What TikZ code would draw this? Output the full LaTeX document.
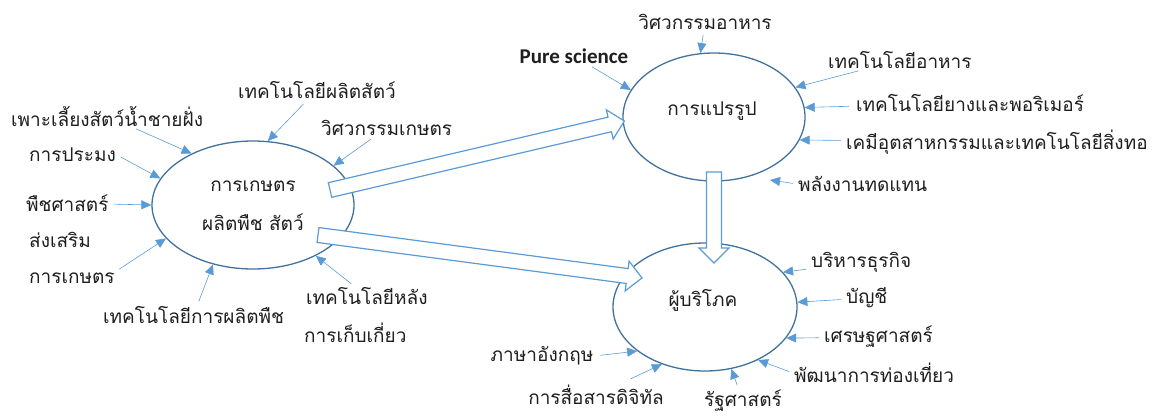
\documentclass[tikz,border=0pt]{standalone}
\usepackage{fontspec}
\newfontfamily\thaifont[Script=Thai]{Loma}
\newfontfamily\latinfont{Carlito}
\usepackage{tikz}
\usetikzlibrary{shapes.geometric,arrows.meta,calc}

\definecolor{ellblue}{RGB}{65,113,156}
\definecolor{arrblue}{RGB}{91,155,213}
\definecolor{txtgray}{RGB}{30,30,30}

\tikzset{
    topic/.style={ellipse, draw=ellblue, line width=1.3pt, minimum width=202pt, minimum height=128pt, inner sep=0pt},
    field/.style={font=\thaifont\fontsize{19}{22}\selectfont, text=txtgray, inner sep=1pt},
    feed/.style={-{Triangle[length=10pt,width=9pt]}, arrblue, line width=0.6pt, shorten <=4pt},
    hollow/.style={draw=arrblue, fill=white, line width=1.2pt, line join=miter}
}

% block arrow from #1 to the tip #2
\newcommand{\hollowarrow}[2]{%
    \path ($(#2)!15pt!(#1)$) coordinate (hb);
    \draw[hollow] ($(#1)!7.5pt!90:(#2)$) -- ($(hb)!7.5pt!90:(#2)$) -- ($(hb)!15pt!90:(#2)$) -- (#2)
        -- ($(hb)!15pt!-90:(#2)$) -- ($(hb)!7.5pt!-90:(#2)$) -- ($(#1)!7.5pt!-90:(#2)$) -- cycle;
}

\begin{document}
\begin{tikzpicture}[x=1pt,y=-1pt]
    \useasboundingbox (0,0) rectangle (1153,416);

    % The three topics
    \node[topic] (farm) at (253,205) {};
    \node[topic, minimum width=182pt] (proc) at (714,117) {};
    \node[topic, minimum width=184pt] (cons) at (705,307) {};

    \node[field] (farmA) at (253,186) {การเกษตร};
    \node[field] (farmB) at (253,222) {ผลิตพืช สัตว์};
    \node[field] (procA) at (712,111) {การแปรรูป};
    \node[field] (consA) at (703,300) {ผู้บริโภค};

    % Farming fields
    \node[field, anchor=west] (aqua) at (10,116) {เพาะเลี้ยงสัตว์น้ำชายฝั่ง};
    \node[field, anchor=west] (anim) at (237,90) {เทคโนโลยีผลิตสัตว์};
    \node[field, anchor=west] (agen) at (320,128) {วิศวกรรมเกษตร};
    \node[field, anchor=west] (fish) at (28,155) {การประมง};
    \node[field, anchor=west] (plant) at (25,203) {พืชศาสตร์};
    \node[field, anchor=west] (ext1) at (28,240) {ส่งเสริม};
    \node[field, anchor=west] (ext2) at (28,278) {การเกษตร};
    \node[field, anchor=west] (crop) at (102,315) {เทคโนโลยีการผลิตพืช};
    \node[field, anchor=west] (post1) at (305,296) {เทคโนโลยีหลัง};
    \node[field, anchor=west] (post2) at (303,333) {การเก็บเกี่ยว};

    \draw[feed] (aqua) -- (farm.140);
    \draw[feed, shorten <=6pt] (anim) -- (farm.77);
    \draw[feed] (agen) -- (farm.26);
    \draw[feed] (fish.east) -- (farm.164);
    \draw[feed] (plant) -- (farm.180);
    \draw[feed] (ext2.north east) -- (farm.201);
    \draw[feed] (crop) -- (farm.236);
    \draw[feed, shorten <=4pt] (post1) -- (farm.321);

    % Processing fields
    \node[field] (foodeng) at (705,22) {วิศวกรรมอาหาร};
    \node[font=\latinfont\bfseries\fontsize{21}{24}\selectfont, text=txtgray, inner sep=1pt] (pure) at (574,56) {Pure science};
    \node[field, anchor=west] (foodtech) at (827,60) {เทคโนโลยีอาหาร};
    \node[field, anchor=west] (rubber) at (855,103) {เทคโนโลยียางและพอริเมอร์};
    \node[field, anchor=west] (textile) at (845,142) {เคมีอุตสาหกรรมและเทคโนโลยีสิ่งทอ};
    \node[field, anchor=west] (energy) at (797,184) {พลังงานทดแทน};

    \draw[feed] (foodeng) -- (proc.102);
    \draw[feed] (pure) -- (proc.162);
    \draw[feed] (foodtech) -- (proc.20);
    \draw[feed, shorten <=6pt] (rubber) -- (proc.6);
    \draw[feed] (textile) -- (proc.345);
    \draw[feed] (energy.west) -- ($(proc.center)+(56,63)$);

    % Consumer fields
    \node[field, anchor=west] (biz) at (810,262) {บริหารธุรกิจ};
    \node[field, anchor=west] (acct) at (845,298) {บัญชี};
    \node[field, anchor=west] (econ) at (823,337) {เศรษฐศาสตร์};
    \node[field, anchor=west] (tour) at (793,373) {พัฒนาการท่องเที่ยว};
    \node[field] (polsci) at (743,401) {รัฐศาสตร์};
    \node[field] (digital) at (596,395) {การสื่อสารดิจิทัล};
    \node[field] (english) at (542,356) {ภาษาอังกฤษ};

    \draw[feed] (biz) -- (cons.24);
    \draw[feed] (acct) -- (cons.3);
    \draw[feed] (econ) -- (cons.339);
    \draw[feed] (tour.west) -- (cons.315);
    \draw[feed] (polsci) -- (cons.293);
    \draw[feed, shorten <=12pt] (digital) -- (cons.233);
    \draw[feed, shorten <=6pt] (english.east) -- (cons.213);

    % Big arrows between topics
    \coordinate (c1) at ($(farm.center)+(77,-15)$);
    \coordinate (c1tip) at ($(proc.west)+(2,4)$);
    \coordinate (c2) at ($(farm.center)+(65,30)$);
    \coordinate (c2tip) at ($(cons.center)+(-63,-29)$);
    \coordinate (c3) at ($(proc.center)+(0,55)$);
    \coordinate (c3tip) at ($(cons.center)+(9,-44)$);
    \hollowarrow{c1}{c1tip}
    \hollowarrow{c2}{c2tip}
    \hollowarrow{c3}{c3tip}
\end{tikzpicture}
\end{document}
